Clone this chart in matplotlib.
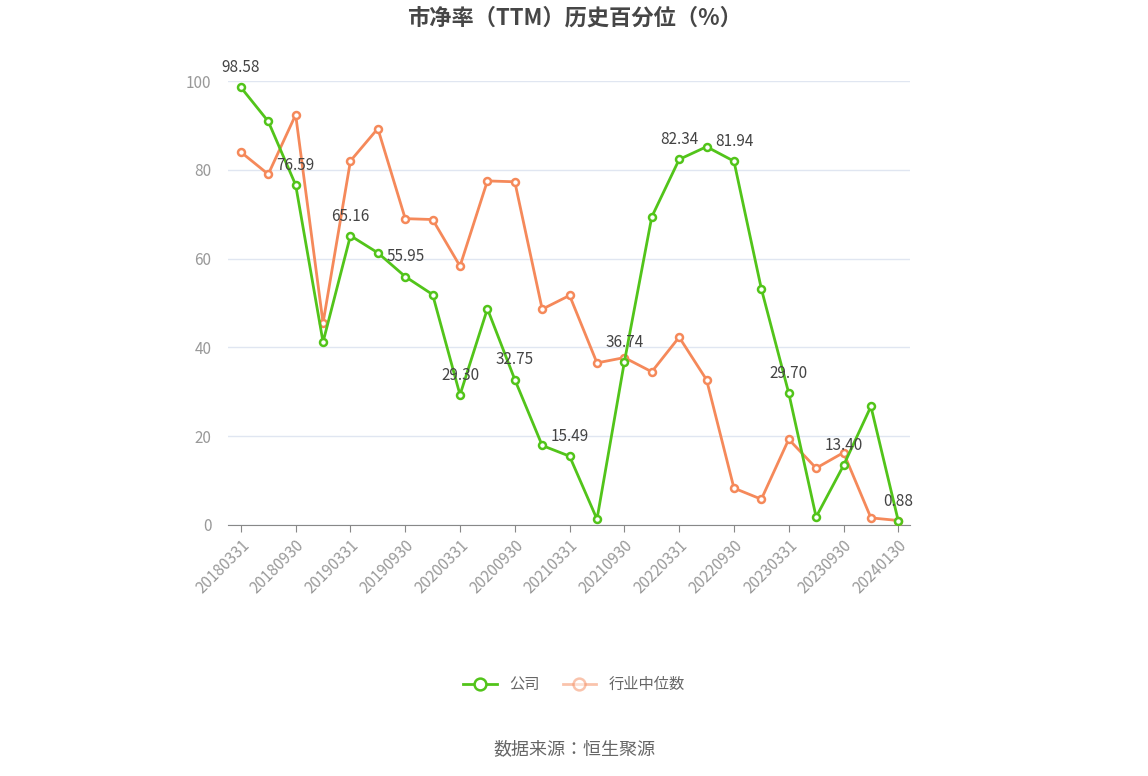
import matplotlib
matplotlib.use("Agg")
import matplotlib.pyplot as plt

plt.rcParams['font.family'] = ['Noto Sans CJK JP', 'Noto Sans CJK SC', 'Noto Sans CJK TC', 'Noto Sans CJK KR', 'DejaVu Sans']

dates = ["20180331","20180630","20180930","20181231","20190331","20190630","20190930","20191231",
         "20200331","20200630","20200930","20201231","20210331","20210630","20210930","20211231",
         "20220331","20220630","20220930","20221231","20230331","20230630","20230930","20231231","20240130"]
company = [98.58,90.9,76.59,41.2,65.16,61.3,55.95,51.9,29.30,48.7,32.75,17.9,15.49,1.3,36.74,69.4,
           82.34,85.2,81.94,53.2,29.70,1.8,13.40,26.7,0.88]
industry = [84.0,79.0,92.4,45.5,82.0,89.3,69.0,68.8,58.3,77.5,77.3,48.6,51.7,36.5,37.7,34.5,
            42.3,32.7,8.3,5.8,19.3,12.8,16.3,1.6,1.0]
labeled = [0,2,4,6,8,10,12,14,16,18,20,22,24]

fig = plt.figure(figsize=(11.48,7.76), dpi=100)
ax = fig.add_axes([0.1986,0.3235,0.5944,0.5721])
x = list(range(len(dates)))
green = '#52c41a'; orange = '#f5895a'
ax.plot(x, industry, color=orange, lw=2, marker='o', ms=5, mfc='white', mec=orange, mew=1.8, label='行业中位数', zorder=3)
ax.plot(x, company, color=green, lw=2, marker='o', ms=5, mfc='white', mec=green, mew=1.8, label='公司', zorder=4)
for i in labeled:
    ax.annotate(f"{company[i]:.2f}", (i, company[i]), xytext=(0,8), textcoords='offset points',
                ha='center', va='bottom', fontsize=11, color='#444444', zorder=5)
ax.set_xlim(-0.47, 24.44)
ax.set_ylim(0, 100)
ax.set_yticks([0,20,40,60,80,100])
ax.set_xticks(x[::2])
ax.set_xticklabels(dates[::2], rotation=45, ha='right', rotation_mode='anchor')
ax.tick_params(axis='x', colors='#999999', labelsize=11, length=5, color='#888888')
ax.tick_params(axis='y', colors='#999999', labelsize=11, length=0, pad=12)
ax.grid(axis='y', color='#e0e6f1', lw=1)
ax.set_axisbelow(True)
for s in ['top','right','left']:
    ax.spines[s].set_visible(False)
ax.spines['bottom'].set_color('#888888')
fig.text(0.5, 0.977, '市净率（TTM）历史百分位（%）', ha='center', va='center', fontsize=16, fontweight='bold', color='#464646')
h, l = ax.get_legend_handles_labels()
leg = fig.legend(h[::-1], l[::-1], loc='center', bbox_to_anchor=(0.5, 0.118), ncol=2, frameon=False, fontsize=11,
           labelcolor='#666666', handlelength=2.2, columnspacing=1.5, markerscale=1.7)
leg.legend_handles[1].set_alpha(0.5)
fig.text(0.5, 0.035, '数据来源：恒生聚源', ha='center', va='center', fontsize=13, color='#666666')
fig.savefig('out.png', dpi=100)
